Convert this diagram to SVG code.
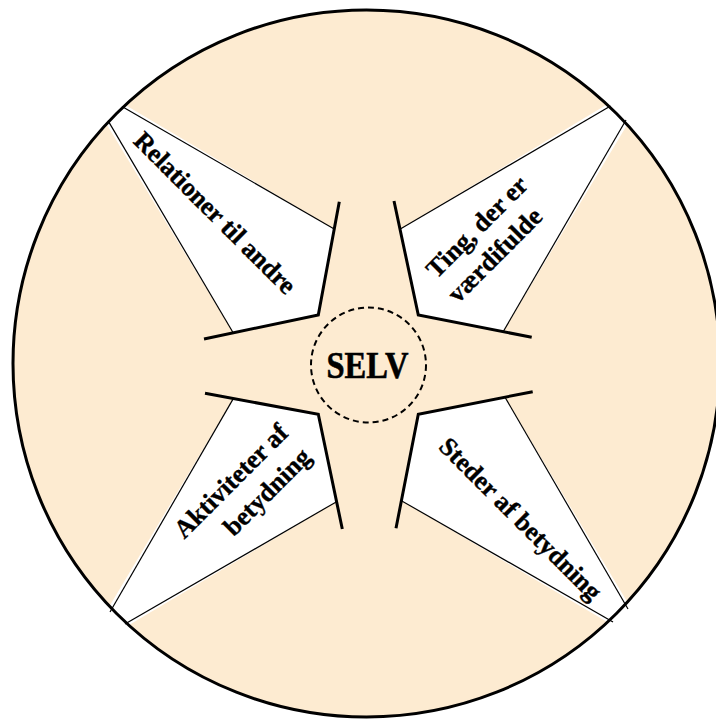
<svg xmlns="http://www.w3.org/2000/svg" width="716" height="719" viewBox="0 0 716 719">
<style>
.wedge{fill:#ffffff;stroke:none}
.thin{fill:none;stroke:#000;stroke-width:1.2}
.thick{fill:none;stroke:#000;stroke-width:3;stroke-linejoin:miter}
.lbl{font-family:"Liberation Serif","Times New Roman",serif;font-weight:bold;font-size:26px;fill:#000;stroke:#000;stroke-width:0.4;text-anchor:middle;dominant-baseline:central}
</style>
<rect width="716" height="719" fill="#ffffff"/>
<circle cx="366.5" cy="363.5" r="353.5" fill="#FDEBD1"/>
<g id="wedge-tl">
<polygon class="wedge" points="122,103 334.2,229 318.3,315 233,332.5 104,120"/>
<line class="thin" x1="122" y1="106.6" x2="334.2" y2="229"/>
<line class="thin" x1="108" y1="120.6" x2="233" y2="332.5"/>
<text class="lbl" x="215" y="213" transform="rotate(45 215 213)">Relationer til andre</text>
</g>
<g id="wedge-tr">
<polygon class="wedge" points="611,102 400.3,229 418.3,315 503.3,331.5 630,120"/>
<line class="thin" x1="610.5" y1="106" x2="400.3" y2="229"/>
<line class="thin" x1="626" y1="120" x2="503.3" y2="331.5"/>
<text class="lbl" x="477" y="227" transform="rotate(-45 477 227)">Ting, der er</text>
<text class="lbl" x="495" y="255" transform="rotate(-45 495 255)">værdifulde</text>
</g>
<g id="wedge-bl">
<polygon class="wedge" points="106,612 233.3,398.6 318.3,414.3 336.6,501.7 124,628"/>
<line class="thin" x1="110" y1="612" x2="233.3" y2="398.6"/>
<line class="thin" x1="125" y1="624" x2="336.6" y2="501.7"/>
<text class="lbl" x="231" y="481" transform="rotate(-45 231 481)">Aktiviteter af</text>
<text class="lbl" x="267" y="492" transform="rotate(-45 267 492)">betydning</text>
</g>
<g id="wedge-br">
<polygon class="wedge" points="632,610 505,397.2 418.3,414.3 401.4,500.7 614,626"/>
<line class="thin" x1="628" y1="609" x2="505" y2="397.2"/>
<line class="thin" x1="613" y1="622" x2="401.4" y2="500.7"/>
<text class="lbl" x="520.5" y="519" transform="rotate(45 520.5 519)">Steder af betydning</text>
</g>
<g id="connectors">
<polyline class="thick" points="339.3,201.7 318.3,315 204,339"/>
<polyline class="thick" points="394,201 418.3,315 531.7,337.3"/>
<polyline class="thick" points="205,393.3 318.3,414.3 342.3,529"/>
<polyline class="thick" points="532.7,391.7 418.3,414.3 396,528.3"/>
</g>
<circle cx="366.5" cy="363.5" r="353.5" fill="none" stroke="#000" stroke-width="3"/>
<g id="selv">
<circle cx="368.5" cy="365" r="57.5" fill="none" stroke="#000" stroke-width="2" stroke-dasharray="6,4"/>
<text x="367.5" y="378" font-family="'Liberation Serif','Times New Roman',serif" font-weight="bold" font-size="38" stroke="#000" stroke-width="0.6" text-anchor="middle" textLength="82" lengthAdjust="spacingAndGlyphs">SELV</text>
</g>
</svg>
